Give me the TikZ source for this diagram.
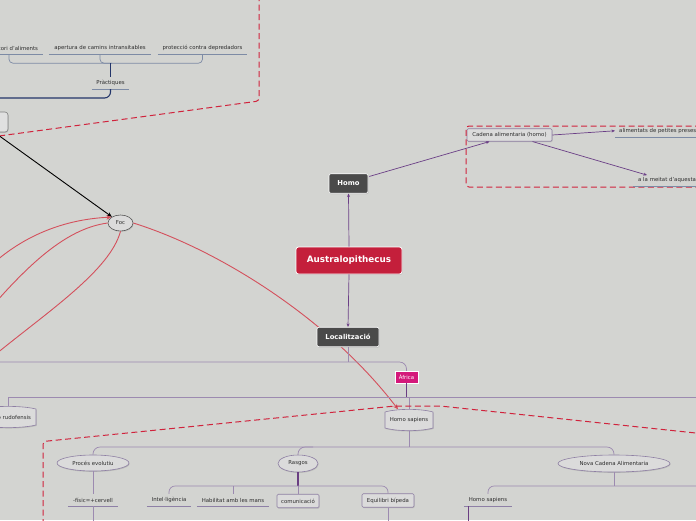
\documentclass[tikz,border=0pt]{standalone}
\usepackage{fontspec}
\setmainfont{DejaVu Sans}
\usetikzlibrary{shapes.geometric,arrows.meta,shadows,calc}
\definecolor{bgc}{HTML}{D3D4D1}
\definecolor{txtc}{HTML}{2E2E2E}
\definecolor{lpc}{HTML}{9C8AB0}
\definecolor{dpc}{HTML}{6A3E82}
\definecolor{pac}{HTML}{6B3F86}
\definecolor{ulc}{HTML}{8E80A6}
\definecolor{ulb}{HTML}{7D8BA5}
\definecolor{navc}{HTML}{23356A}
\definecolor{rdc}{HTML}{D0233C}
\definecolor{rcc}{HTML}{D4505C}
\definecolor{bfill}{HTML}{DBDBDB}
\definecolor{blinec}{HTML}{8E7FA3}
\definecolor{darkn}{HTML}{4A4A4A}
\definecolor{ausc}{HTML}{C41F3B}
\definecolor{afrc}{HTML}{D4187A}
\newcommand{\smalltxt}{\fontsize{5.4pt}{6.5pt}\selectfont}
\newcommand{\barrelshape}[4]{%
  \path[barrel] ({#1-#3},{#2-#4+2.5}) .. controls ({#1-#3/2},{#2-#4-1}) and ({#1+#3/2},{#2-#4-1}) .. ({#1+#3},{#2-#4+2.5})
    -- ({#1+#3},{#2+#4-2.5}) .. controls ({#1+#3/2},{#2+#4+1}) and ({#1-#3/2},{#2+#4+1}) .. ({#1-#3},{#2+#4-2.5}) -- cycle;}
\begin{document}
\begin{tikzpicture}[x=1pt,y=-1pt,
  txt/.style={font=\smalltxt, text=txtc, inner sep=0pt, minimum height=12},
  uline/.style={draw=ulc, line width=0.6},
  ulineb/.style={draw=ulb, line width=0.6},
  shd/.style={drop shadow={opacity=0.3,shadow xshift=0.6pt,shadow yshift=-0.9pt}},
  lbox/.style={txt, draw=blinec, fill=bfill, rounded corners=1.2pt, line width=0.6, shd},
  ell/.style={txt, ellipse, draw=blinec, fill=bfill, line width=0.6, shd},
  barrel/.style={draw=blinec, fill=bfill, line width=0.6, shd},
  darkbox/.style={fill=darkn, draw=white, line width=0.6, rounded corners=2pt, text=white, font=\bfseries\fontsize{6.8pt}{8pt}\selectfont, inner sep=0pt, shd},
  lp/.style={draw=lpc, line width=0.7},
  dp/.style={draw=dpc, line width=1.2},
  parr/.style={draw=pac, line width=0.7, -{Stealth[length=3.5pt,width=3pt]}},
  rdash/.style={draw=rdc, line width=1, dash pattern=on 6pt off 3.5pt},
  rcurve/.style={draw=rcc, line width=0.9},
]
\useasboundingbox[fill=bgc] (0,0) rectangle (696,520);

% ---------- top-left cluster ----------
\draw[rdash, rounded corners=3] (259,-5) -- (259,101) -- (-10,137.2);
\node[txt, draw=black!50, fill=black!12, rounded corners=3pt, line width=0.6, shd, minimum width=56, minimum height=20] (lt) at (-20,122) {};
\node[txt, minimum width=68, text width=58, align=right] (t1) at (9,48) {cori d'aliments};
\node[txt, minimum width=102] (t2) at (100,48) {apertura de camins intransitables};
\node[txt, minimum width=89] (t3) at (202.5,48) {protecció contra depredadors};
\node[txt, minimum width=37] (prac) at (110.5,83) {Pràctiques};
\draw[ulineb] (t1.south west) -- (t1.south east);
\draw[ulineb] (t2.south west) -- (t2.south east);
\draw[ulineb] (t3.south west) -- (t3.south east);
\draw[ulineb] (prac.south west) -- (prac.south east);
\draw[draw=ulb, line width=0.7, rounded corners=4] (t1.south) -- ++(0,9) -| (t3.south);
\draw[draw=ulb, line width=0.7, rounded corners=4] (t2.south) |- ($(t2.south)+(12,9)$);
\draw[navc, line width=1.1] (prac.north) -- ++(0,-14);
\coordinate (navL) at (-5,98);
\draw[navc, line width=1.1, rounded corners=6] (prac.south) |- (navL);

% ---------- Foc ----------
\node[ell, draw=black!65, fill=black!14, minimum width=25, minimum height=16] (foc) at (120.5,223) {Foc};
\draw[black, line width=0.9, -{Stealth[length=5pt,width=4pt]}] (lt) -- (foc);
\coordinate (r1) at (-4,261);
\coordinate (r2) at (-4,302);
\coordinate (r3) at (-4,354);
\draw[rcurve, -{Stealth[length=5pt,width=4.5pt]}] (r1) .. controls (30,232) and (70,219) .. (foc.north west);
\draw[rcurve] (r2) .. controls (35,258) and (70,228) .. (foc.west);
\draw[rcurve] (r3) .. controls (50,310) and (110,270) .. (foc.south);

% ---------- Homo sapiens (Africa) ----------
\barrelshape{409}{420}{24}{10.5}
\node[txt, minimum width=48, minimum height=21] (hs) at (409,420) {Homo sapiens};
\barrelshape{8}{417}{28}{10.5}
\node[txt, minimum width=56, minimum height=21] (rudo) at (8,417) {Homo rudofensis};
\draw[rcurve, -{Stealth[length=5pt,width=4.5pt]}] (foc.east) .. controls (220,250) and (330,320) .. ($(hs.north)+(-11,0)$);

% ---------- central nodes ----------
\node[fill=ausc, draw=white, line width=0.8, rounded corners=2.5pt, text=white, font=\bfseries\fontsize{8.8pt}{10pt}\selectfont, minimum width=106, minimum height=27, inner sep=0pt, shd] (aus) at (349,260.5) {Australopithecus};
\node[darkbox, minimum width=39, minimum height=19.5] (homo) at (348.5,183.5) {Homo};
\node[darkbox, minimum width=62, minimum height=19.5] (loc) at (348,337) {Localització};
\draw[parr] (aus.north) -- (homo.south);
\draw[parr] (aus.south) -- (loc.north);

% ---------- Cadena alimentaria ----------
\node[lbox, minimum width=85, minimum height=12.5] (cad) at (509.5,135) {Cadena alimentaria (homo)};
\draw[rdash, rounded corners=3] (720,126) -- (466,126) -- (466,187) -- (720,187);
\node[txt, anchor=south west, inner xsep=4pt] (prey) at (615,137) {alimentats de petites preses};
\node[txt, anchor=south west, inner xsep=5pt] (half) at (633,186.5) {a la meitat d'aquesta};
\draw[ulineb] (prey.south west) -- (prey.south east);
\draw[ulineb] (half.south west) -- (half.south east);
\draw[parr] ($(homo.north east)+(1,3)$) -- ($(cad.south)+(-20,0)$);
\draw[parr] (cad.east) -- (prey.west);
\draw[parr] ($(cad.south)+(23,0)$) -- ($(half.north west)+(14,1)$);

% ---------- Localitzacio tree ----------
\node[fill=afrc, draw=white, line width=0.4, text=white, font=\smalltxt, minimum width=23, minimum height=12, inner sep=0pt, shd] (afr) at (406.5,377) {Àfrica};
\coordinate (y362) at (0,362);
\coordinate (locL) at (-5,362);
\draw[lp] (loc.south) -- (loc.south |- y362);
\draw[lp, rounded corners=7] (locL) -| (afr.north);
\coordinate (y397) at (0,397);
\coordinate (afrR) at (710,397);
\draw[dpc, line width=1] (afr.south) -- (afr.south |- y397);
\draw[lp] (rudo.north) |- (afrR);
\draw[lp] (hs.north) -- (hs.north |- y397);

% ---------- red dashed lower boundary ----------
\draw[rdash, rounded corners=3] (43,525) -- (43,441.5) -- (395,406) -- (440,406) -- (710,434.5);

% ---------- Homo sapiens tree ----------
\node[ell, minimum width=72, minimum height=16] (proc) at (93,463) {Procés evolutiu};
\node[ell, minimum width=40, minimum height=17] (ras) at (298,463.5) {Rasgos};
\node[ell, minimum width=112, minimum height=17] (nova) at (614,463.5) {Nova Cadena Alimentaria};
\coordinate (y447) at (0,447);
\draw[lp] (hs.south) -- (hs.south |- y447);
\draw[lp, rounded corners=7] (proc.north) |- (nova.north |- y447) -- (nova.north);
\draw[lp, rounded corners=7] (ras.north) |- ($(ras.north |- y447)+(15,0)$);

% ---------- bottom row ----------
\node[txt, minimum width=50] (fis) at (93,500) {-físic=+cervell};
\node[txt, minimum width=44] (intel) at (169,500) {Intel·ligència};
\node[txt, minimum width=72] (hab) at (233,500) {Habilitat amb les mans};
\node[lbox, minimum width=42, minimum height=13.5] (com) at (298,501) {comunicació};
\node[lbox, minimum width=52, minimum height=13.5] (equi) at (388,500.5) {Equilibri bípeda};
\node[txt, minimum width=48] (hs2) at (488,500) {Homo sapiens};
\draw[uline] (fis.south west) -- (fis.south east);
\draw[uline] (intel.south west) -- (intel.south east);
\draw[uline] (hab.south west) -- (hab.south east);
\draw[uline] (hs2.south west) -- (hs2.south east);

\coordinate (y486) at (0,486);
\coordinate (ybot) at (0,525);
\coordinate (novaR) at (710,486);
\draw[lp] (proc.south) -- (fis.north);
\draw[lp] (fis.south) -- (fis.south |- ybot);
\draw[dp] (ras.south) -- (ras.south |- y486);
\draw[lp, rounded corners=6] (intel.north) |- (equi.north |- y486) -- (equi.north);
\draw[lp] (hab.north) -- (hab.north |- y486);
\draw[lp] (com.north) -- (com.north |- y486);
\draw[lp] (equi.south) -- (equi.south |- ybot);
\draw[lp] (nova.south) -- (nova.south |- y486);
\draw[lp, rounded corners=6] (novaR) -| (hs2.north);
\draw[dp] ($(hs2.south west)+(5,0)$) -- ($(hs2.south west |- ybot)+(5,0)$);
\end{tikzpicture}
\end{document}
